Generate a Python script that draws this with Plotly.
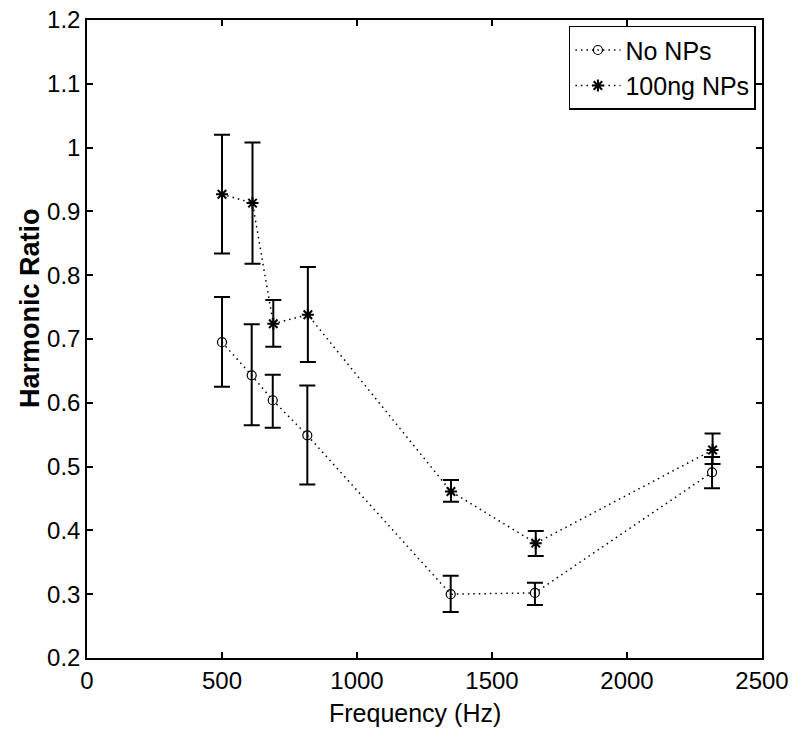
import plotly.graph_objects as go

freq_no = [500, 610, 688, 816, 1347, 1659, 2315]
ratio_no = [0.695, 0.643, 0.604, 0.549, 0.300, 0.302, 0.491]
err_no_up = [0.766, 0.723, 0.644, 0.627, 0.329, 0.318, 0.515]
err_no_lo = [0.625, 0.565, 0.561, 0.472, 0.272, 0.283, 0.466]

freq_np = [500, 613, 690, 818, 1348, 1662, 2317]
ratio_np = [0.927, 0.913, 0.724, 0.738, 0.461, 0.380, 0.526]
err_np_up = [1.020, 1.008, 0.761, 0.813, 0.479, 0.399, 0.552]
err_np_lo = [0.834, 0.818, 0.688, 0.664, 0.445, 0.360, 0.504]

x_ticks = [0, 500, 1000, 1500, 2000, 2500]
y_ticks = [0.2, 0.3, 0.4, 0.5, 0.6, 0.7, 0.8, 0.9, 1, 1.1, 1.2]
y_labels = ["0.2", "0.3", "0.4", "0.5", "0.6", "0.7", "0.8", "0.9", "1", "1.1", "1.2"]

FONT = "Liberation Sans, Arial, sans-serif"

def err(vals, up, lo):
    return dict(
        type="data", symmetric=False,
        array=[u - v for u, v in zip(up, vals)],
        arrayminus=[v - l for v, l in zip(vals, lo)],
        color="black", thickness=2, width=8,
    )

fig = go.Figure()
fig.add_trace(go.Scatter(
    x=freq_no, y=ratio_no, name="No NPs", mode="lines+markers",
    line=dict(color="black", width=1.5, dash="1.5px,4px"),
    marker=dict(symbol="circle-open", size=9, color="black", line=dict(width=1.2)),
    error_y=err(ratio_no, err_no_up, err_no_lo),
))
fig.add_trace(go.Scatter(
    x=freq_np, y=ratio_np, name="100ng NPs", mode="lines+markers",
    line=dict(color="black", width=1.5, dash="1.5px,4px"),
    marker=dict(symbol="asterisk-open", size=10, color="black", line=dict(width=2, color="black")),
    error_y=err(ratio_np, err_np_up, err_np_lo),
))

axis_common = dict(
    showline=True, linecolor="black", linewidth=1.5, mirror="ticks",
    ticks="inside", ticklen=6, tickwidth=1.5, tickcolor="black",
    showgrid=False, zeroline=False, automargin=False,
    ticklabeloverflow="allow",
    tickfont=dict(family=FONT, size=24, color="black"),
)

fig.update_layout(
    width=800, height=739,
    margin=dict(l=87, r=38, t=20, b=81),
    paper_bgcolor="white", plot_bgcolor="white",
    font=dict(family=FONT, color="black"),
    showlegend=True,
    legend=dict(
        x=0.991, y=0.991, xanchor="right", yanchor="top",
        bordercolor="black", borderwidth=1.5, bgcolor="white",
        font=dict(family=FONT, size=25, color="black"),
        tracegroupgap=0, itemwidth=45,
    ),
    xaxis=dict(range=[0, 2500], tickvals=x_ticks, ticktext=[str(v) for v in x_ticks],
               **axis_common),
    yaxis=dict(range=[0.2, 1.2], tickvals=y_ticks, ticktext=y_labels,
               **axis_common),
    annotations=[
        dict(text="Frequency (Hz)", xref="paper", yref="paper",
             x=(415 - 87) / 675, y=-(713 - 658) / 638, xanchor="center", yanchor="middle",
             showarrow=False, font=dict(family=FONT, size=25, color="black")),
        dict(text="<b>Harmonic Ratio</b>", xref="paper", yref="paper",
             x=-(87 - 30) / 675, y=(658 - 308) / 638, xanchor="center", yanchor="middle",
             textangle=-90, showarrow=False, font=dict(family=FONT, size=27, color="black")),
    ],
)

# remove the browser's default 8px body margin so the figure sits at the page origin
fig.write_html("out.html", config={"displayModeBar": False},
               post_script="document.body.style.margin='0';")
